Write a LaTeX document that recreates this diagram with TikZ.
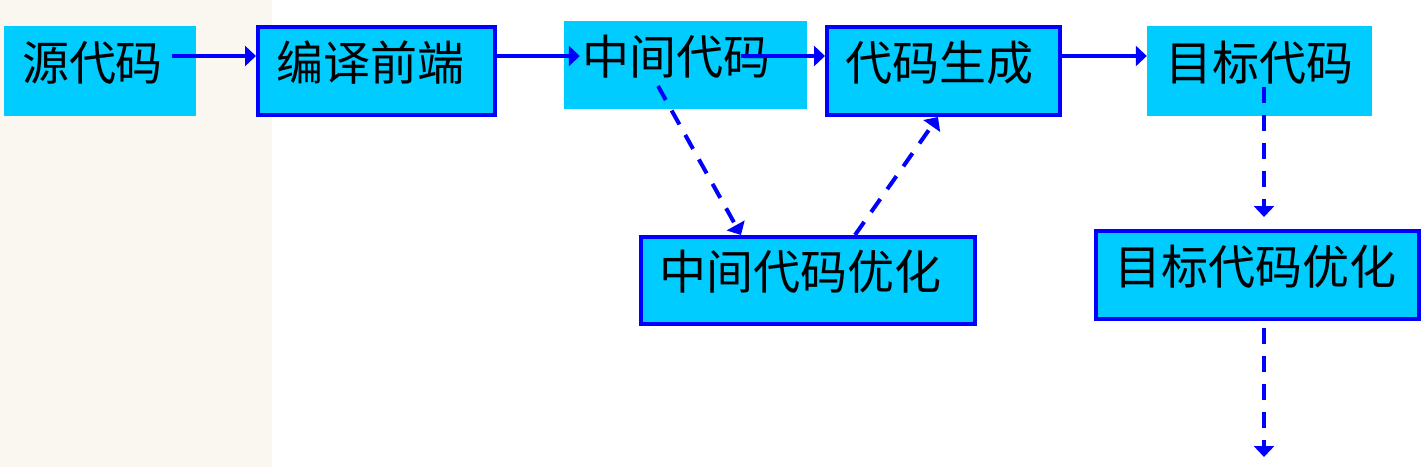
\documentclass[tikz,border=0pt]{standalone}
\usepackage{fontspec}
\newfontfamily\cjk{Noto Sans CJK SC}
\usetikzlibrary{arrows.meta}
\definecolor{boxcyan}{RGB}{0,204,255}
\definecolor{lineblue}{RGB}{0,0,255}
\definecolor{paper}{RGB}{249,247,240}

\begin{document}
\begin{tikzpicture}[x=1pt, y=-1pt,
                main/.style = {fill=boxcyan, inner xsep=18pt, inner ysep=0pt, align=left, minimum height=90pt,
                               text height=40pt, text depth=22pt, font=\cjk\fontsize{47}{50}\selectfont},
                framed/.style = {main, draw=lineblue, line width=4pt},
                flow/.style = {draw=lineblue, line width=4pt, -{Triangle[length=11pt,width=20pt]}},
                opt/.style = {flow, dash pattern=on 16pt off 12pt}]
                \useasboundingbox (0,0) rectangle (1422,467);
                \fill[paper] (0,0) rectangle (272,467);
                \node[main, text width=156pt] (1) at (100,71) {源代码};
                \node[framed, text width=201pt, minimum height=88pt] (2) at (376.5,71) {编译前端};
                \node[main, text width=207pt, minimum height=88pt] (3) at (685.5,65) {中间代码};
                \node[framed, text width=197pt, minimum height=88pt] (4) at (943.5,71) {代码生成};
                \node[main, text width=189pt] (5) at (1259.5,71) {目标代码};
                \node[framed, text width=298pt, minimum height=87pt] (6) at (808,280.5) {中间代码优化};
                \node[framed, text width=287pt, minimum height=88pt] (7) at (1257.5,275) {目标代码优化};
                \coordinate (8) at (1264,457);
                \draw[flow] ([xshift=-24pt,yshift=15pt]1.east) -- ([yshift=15pt]2.west);
                \draw[flow] ([yshift=15pt]2.east) -- ([xshift=16pt,yshift=9pt]3.west);
                \draw[flow] ([xshift=-66pt,yshift=9pt]3.east) -- ([yshift=15pt]4.west);
                \draw[flow] ([yshift=15pt]4.east) -- ([yshift=15pt]5.west);
                \draw[opt] ([xshift=-27.5pt,yshift=-21pt]3.center) -- ([xshift=-67pt]6.north);
                \draw[opt] ([xshift=47pt]6.north) -- ([xshift=-5.5pt]4.south);
                \draw[opt] ([xshift=4.5pt,yshift=-16pt]5.center) -- ([xshift=6.5pt,yshift=12pt]7.north);
                \draw[opt] ([xshift=6.5pt,yshift=-7pt]7.south) -- (8);
            \end{tikzpicture}
\end{document}
